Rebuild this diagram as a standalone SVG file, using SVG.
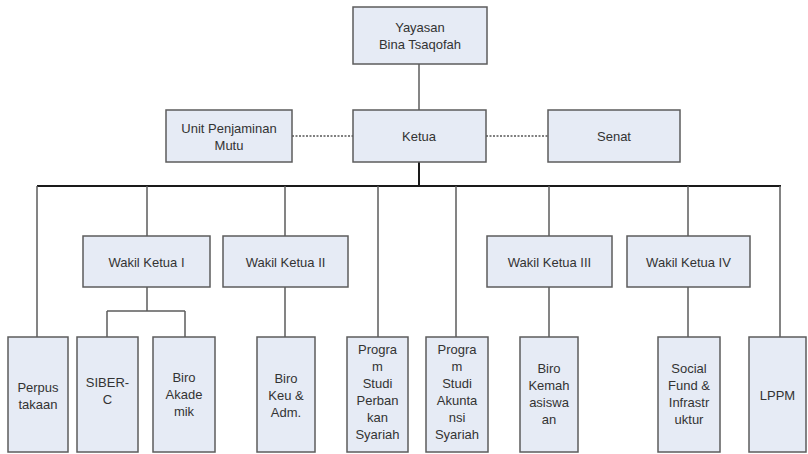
<svg xmlns="http://www.w3.org/2000/svg" width="808" height="454" viewBox="0 0 808 454">
<style>
.box{fill:#e6ebf5;stroke:#5c5c5c;stroke-width:1.5}
text{font-family:"Liberation Sans",Arial,sans-serif;font-size:13px;fill:#333;text-anchor:middle;dominant-baseline:central}
.ln{fill:none;stroke:#5c5c5c;stroke-width:1.5}
.bus{fill:none;stroke:#1a1a1a;stroke-width:2}
.dash{fill:none;stroke:#555;stroke-width:1.5;stroke-dasharray:2 1.5}
</style>
<rect width="808" height="454" fill="#fff"/>
<g id="connectors">
<line class="ln" x1="419" y1="64" x2="419" y2="110"/>
<line class="dash" x1="292" y1="136" x2="353" y2="136"/>
<line class="dash" x1="486" y1="136" x2="548" y2="136"/>
<line class="bus" x1="419" y1="162" x2="419" y2="186"/>
<line class="bus" x1="37" y1="186" x2="781" y2="186"/>
<path class="ln" d="M37 186V337M147 186V236M285 186V236M378 186V337M456 186V337M549 186V236M688 186V236M780 186V337"/>
<path class="ln" d="M147 287V311M107 311H185M107 311V337M185 311V337"/>
<path class="ln" d="M285 287V337M549 287V337M688 287V337"/>
</g>
<g id="yayasan"><rect class="box" x="353" y="7" width="134" height="57"/><text x="420" y="27">Yayasan</text><text x="420" y="44">Bina Tsaqofah</text></g>
<g id="ketua"><rect class="box" x="353" y="110" width="133" height="52"/><text x="419" y="136">Ketua</text></g>
<g id="upm"><rect class="box" x="166" y="110" width="126" height="52"/><text x="229" y="128">Unit Penjaminan</text><text x="229" y="145">Mutu</text></g>
<g id="senat"><rect class="box" x="548" y="110" width="132" height="52"/><text x="614" y="136">Senat</text></g>
<g id="wk1"><rect class="box" x="83" y="236" width="127" height="51"/><text x="146.5" y="262">Wakil Ketua I</text></g>
<g id="wk2"><rect class="box" x="223" y="236" width="125" height="51"/><text x="285.5" y="262">Wakil Ketua II</text></g>
<g id="wk3"><rect class="box" x="487" y="236" width="125" height="51"/><text x="549.5" y="262">Wakil Ketua III</text></g>
<g id="wk4"><rect class="box" x="627" y="236" width="123" height="51"/><text x="688.5" y="262">Wakil Ketua IV</text></g>
<g id="perpus"><rect class="box" x="8" y="337" width="60" height="115"/><text x="38" y="387">Perpus</text><text x="38" y="404">takaan</text></g>
<g id="siber"><rect class="box" x="77" y="337" width="61" height="115"/><text x="107.5" y="382">SIBER-</text><text x="107.5" y="399">C</text></g>
<g id="akademik"><rect class="box" x="153" y="337" width="62" height="115"/><text x="184" y="377">Biro</text><text x="184" y="394">Akade</text><text x="184" y="411">mik</text></g>
<g id="keu"><rect class="box" x="257" y="337" width="58" height="115"/><text x="286" y="378">Biro</text><text x="286" y="395">Keu &amp;</text><text x="286" y="412">Adm.</text></g>
<g id="perbankan"><rect class="box" x="347" y="337" width="61" height="115"/><text x="377.5" y="349">Progra</text><text x="377.5" y="366">m</text><text x="377.5" y="383">Studi</text><text x="377.5" y="400">Perban</text><text x="377.5" y="417">kan</text><text x="377.5" y="434">Syariah</text></g>
<g id="akuntansi"><rect class="box" x="426" y="337" width="62" height="115"/><text x="457" y="349">Progra</text><text x="457" y="366">m</text><text x="457" y="383">Studi</text><text x="457" y="400">Akunta</text><text x="457" y="417">nsi</text><text x="457" y="434">Syariah</text></g>
<g id="kemahasiswaan"><rect class="box" x="520" y="337" width="58" height="115"/><text x="549" y="368">Biro</text><text x="549" y="385">Kemah</text><text x="549" y="402">asiswa</text><text x="549" y="419">an</text></g>
<g id="socialfund"><rect class="box" x="658" y="337" width="62" height="115"/><text x="689" y="368">Social</text><text x="689" y="385">Fund &amp;</text><text x="689" y="402">Infrastr</text><text x="689" y="419">uktur</text></g>
<g id="lppm"><rect class="box" x="749" y="337" width="57" height="115"/><text x="777.5" y="395">LPPM</text></g>
</svg>
